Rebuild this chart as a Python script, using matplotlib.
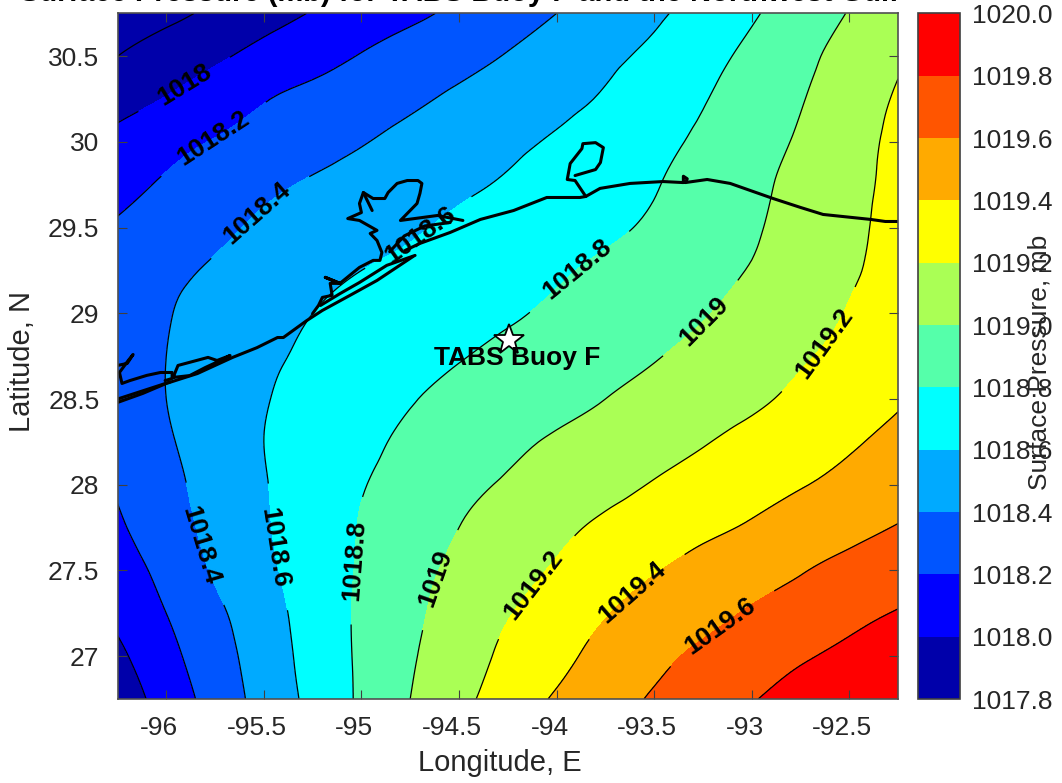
import numpy as np
import matplotlib
matplotlib.use("Agg")
import matplotlib.pyplot as plt
import matplotlib.tri as mtri
from matplotlib.cm import ScalarMappable
from matplotlib.colors import ListedColormap, BoundaryNorm
from matplotlib.transforms import ScaledTranslation

plt.rcParams['font.family'] = ['Liberation Sans', 'DejaVu Sans']
plt.rcParams['axes.unicode_minus'] = False

GRAY = '#262626'

# pressure, one row per latitude (north to south)
lons = [-96.25, -96.0, -95.75, -95.5, -95.25, -95.0, -94.75, -94.5, -94.25,
        -94.0, -93.75, -93.5, -93.25, -93.0, -92.75, -92.5, -92.25]
lats = [30.75, 30.5, 30.25, 30.0, 29.75, 29.5, 29.25, 29.0, 28.75,
        28.5, 28.25, 28.0, 27.75, 27.5, 27.25, 27.0, 26.75]
pressure = [
    [1017.67, 1017.75, 1017.84, 1017.93, 1018.01, 1018.09, 1018.16, 1018.24, 1018.32, 1018.40, 1018.48, 1018.57, 1018.67, 1018.78, 1018.89, 1019.01, 1019.16],
    [1017.80, 1017.89, 1017.97, 1018.06, 1018.13, 1018.21, 1018.28, 1018.34, 1018.41, 1018.48, 1018.56, 1018.64, 1018.74, 1018.84, 1018.95, 1019.07, 1019.18],
    [1017.92, 1018.01, 1018.10, 1018.19, 1018.25, 1018.31, 1018.37, 1018.43, 1018.49, 1018.55, 1018.62, 1018.71, 1018.79, 1018.89, 1018.99, 1019.10, 1019.22],
    [1018.06, 1018.14, 1018.21, 1018.27, 1018.33, 1018.39, 1018.45, 1018.50, 1018.56, 1018.62, 1018.69, 1018.76, 1018.83, 1018.93, 1019.02, 1019.13, 1019.24],
    [1018.15, 1018.22, 1018.29, 1018.36, 1018.42, 1018.47, 1018.52, 1018.57, 1018.62, 1018.68, 1018.73, 1018.79, 1018.87, 1018.96, 1019.05, 1019.15, 1019.24],
    [1018.22, 1018.29, 1018.36, 1018.43, 1018.48, 1018.53, 1018.58, 1018.63, 1018.68, 1018.73, 1018.77, 1018.83, 1018.91, 1018.98, 1019.07, 1019.16, 1019.26],
    [1018.29, 1018.36, 1018.42, 1018.48, 1018.54, 1018.60, 1018.64, 1018.69, 1018.73, 1018.78, 1018.83, 1018.89, 1018.95, 1019.01, 1019.10, 1019.18, 1019.26],
    [1018.31, 1018.39, 1018.46, 1018.53, 1018.60, 1018.65, 1018.69, 1018.74, 1018.78, 1018.83, 1018.88, 1018.94, 1018.99, 1019.06, 1019.13, 1019.21, 1019.28],
    [1018.32, 1018.40, 1018.49, 1018.57, 1018.63, 1018.69, 1018.74, 1018.79, 1018.84, 1018.89, 1018.94, 1018.99, 1019.05, 1019.11, 1019.18, 1019.25, 1019.31],
    [1018.31, 1018.40, 1018.50, 1018.59, 1018.66, 1018.73, 1018.79, 1018.85, 1018.90, 1018.95, 1019.00, 1019.06, 1019.12, 1019.17, 1019.24, 1019.31, 1019.38],
    [1018.27, 1018.38, 1018.49, 1018.60, 1018.68, 1018.76, 1018.83, 1018.89, 1018.96, 1019.02, 1019.07, 1019.13, 1019.19, 1019.25, 1019.31, 1019.38, 1019.44],
    [1018.22, 1018.35, 1018.47, 1018.59, 1018.69, 1018.79, 1018.87, 1018.95, 1019.02, 1019.09, 1019.15, 1019.21, 1019.27, 1019.33, 1019.39, 1019.45, 1019.51],
    [1018.17, 1018.32, 1018.45, 1018.58, 1018.70, 1018.81, 1018.91, 1019.00, 1019.08, 1019.16, 1019.23, 1019.29, 1019.36, 1019.42, 1019.49, 1019.55, 1019.61],
    [1018.10, 1018.26, 1018.42, 1018.56, 1018.69, 1018.82, 1018.94, 1019.04, 1019.13, 1019.22, 1019.31, 1019.39, 1019.46, 1019.52, 1019.59, 1019.65, 1019.71],
    [1018.04, 1018.20, 1018.36, 1018.52, 1018.68, 1018.83, 1018.96, 1019.08, 1019.19, 1019.29, 1019.39, 1019.47, 1019.54, 1019.62, 1019.68, 1019.75, 1019.81],
    [1017.96, 1018.14, 1018.32, 1018.49, 1018.67, 1018.83, 1018.98, 1019.11, 1019.24, 1019.35, 1019.46, 1019.55, 1019.64, 1019.71, 1019.78, 1019.84, 1019.90],
    [1017.89, 1018.08, 1018.28, 1018.47, 1018.65, 1018.83, 1019.00, 1019.15, 1019.29, 1019.42, 1019.52, 1019.62, 1019.71, 1019.79, 1019.86, 1019.92, 1019.99],
]
band_edges = [1017.8, 1018.0, 1018.2, 1018.4, 1018.6, 1018.8, 1019.0, 1019.2, 1019.4, 1019.6, 1019.8, 1020.0]
band_colors = ['#0000AA', '#0000FF', '#0055FF', '#00AAFF', '#00FFFF', '#55FFAA',
               '#AAFF55', '#FFFF00', '#FFAA00', '#FF5500', '#FF0000']

# where the isobar labels sit
label_lon = [-95.904, -95.76, -95.535, -94.71, -93.88, -93.24, -92.62,
             -95.83, -95.45, -95.03, -94.62, -94.13, -93.60, -93.15]
label_lat = [30.328, 30.02, 29.583, 29.472, 29.239, 28.947, 28.819,
             27.646, 27.634, 27.558, 27.453, 27.424, 27.36, 27.16]

buoy_lon = -94.243
buoy_lat = 28.842

# coastline pieces
coast_lon = [-96.25, -96.12, -96.00, -95.84, -95.66, -95.535, -95.43, -95.40, -95.28, -95.20, -95.06, -94.92, -94.735]
coast_lat = [28.48, 28.533, 28.591, 28.649, 28.743, 28.80, 28.859, 28.859, 28.958, 29.017, 29.104, 29.192, 29.332]
coast2_lon = [-94.776, -94.70, -94.545, -94.39, -94.22, -94.05, -93.88, -93.85, -93.777, -93.623, -93.454, -93.35, -93.35, -93.33, -93.34,
              -93.228, -93.11, -92.89, -92.75, -92.634, -92.39, -92.315, -92.25]
coast2_lat = [29.367, 29.408, 29.472, 29.548, 29.60, 29.676, 29.676, 29.682, 29.729, 29.758, 29.769, 29.763, 29.80, 29.785, 29.763,
              29.781, 29.758, 29.67, 29.618, 29.577, 29.548, 29.536, 29.536]
sabine_lon = [-93.85, -93.905, -93.945, -93.93, -93.87, -93.865, -93.80, -93.76, -93.775, -93.80, -93.905]
sabine_lat = [29.682, 29.775, 29.781, 29.874, 29.961, 29.99, 29.996, 29.967, 29.88, 29.839, 29.804]
bay_lon = [-94.48, -94.61, -94.80, -94.715, -94.70, -94.69, -94.71, -94.765, -94.817, -94.863, -94.88, -94.94, -94.99, -95.01, -95.0, -95.07, -95.01,
           -94.92, -94.955, -94.92, -94.895, -94.905, -94.94, -95.01, -95.11, -95.185, -95.11, -95.16, -95.15, -95.20, -95.22, -95.25]
bay_lat = [29.542, 29.571, 29.542, 29.641, 29.70, 29.758, 29.775, 29.775, 29.758, 29.705, 29.67, 29.67, 29.705, 29.641, 29.588, 29.553, 29.542,
           29.484, 29.466, 29.425, 29.355, 29.309, 29.309, 29.268, 29.175, 29.21, 29.175, 29.175, 29.105, 29.093, 29.046, 28.999]
spur_lon = [-94.99, -94.945]
spur_lat = [29.705, 29.60]
island_lon = [-94.725, -94.87, -95.01, -95.11, -95.21]
island_lat = [29.338, 29.28, 29.18, 29.115, 29.046]
bolivar_lon = [-94.855, -94.78, -94.675, -94.545]
bolivar_lat = [29.36, 29.452, 29.51, 29.53]
west_lon = [-96.25, -96.20, -96.17, -96.195, -96.24, -96.227, -96.186, -96.10, -96.03, -95.97, -95.97, -96.006]
west_lat = [28.696, 28.708, 28.76, 28.725, 28.655, 28.591, 28.608, 28.638, 28.655, 28.655, 28.62, 28.608]
west2_lon = [-96.25, -95.98]
west2_lat = [28.50, 28.60]
lagoon_lon = [-95.965, -95.94, -95.786, -95.74, -95.673, -95.70, -95.80, -95.88, -95.965]
lagoon_lat = [28.626, 28.696, 28.743, 28.725, 28.754, 28.737, 28.684, 28.637, 28.626]

coast_parts = [(coast_lon, coast_lat), (coast2_lon, coast2_lat), (sabine_lon, sabine_lat),
               (bay_lon, bay_lat), (spur_lon, spur_lat), (island_lon, island_lat),
               (bolivar_lon, bolivar_lat), (west_lon, west_lat), (west2_lon, west2_lat),
               (lagoon_lon, lagoon_lat)]

W, H = 1062, 783
fig = plt.figure(figsize=(W / 100, H / 100), dpi=100)
ax = fig.add_axes([117.5 / W, 1 - 699 / H, (898 - 117.5) / W, (699 - 13.4) / H])
cax = fig.add_axes([918 / W, 1 - 699 / H, 42 / W, (699 - 13.4) / H])

cmap = ListedColormap(band_colors)
cmap.set_under(band_colors[0])
norm = BoundaryNorm(band_edges, cmap.N)

# matplotlib's own refiner so the isobars come out round instead of angular
lon_grid, lat_grid = np.meshgrid(lons, lats)
tri_grid = mtri.Triangulation(lon_grid.ravel(), lat_grid.ravel())
fine_tri, fine_p = mtri.UniformTriRefiner(tri_grid).refine_field(np.array(pressure).ravel(), subdiv=3)

ax.tricontourf(fine_tri, fine_p, levels=band_edges, cmap=cmap, norm=norm, extend='min')
cs = ax.tricontour(fine_tri, fine_p, levels=band_edges[:-1], colors='k', linewidths=0.9)

labels = ax.clabel(cs, manual=list(zip(label_lon, label_lat)), inline=True, inline_spacing=24,
                   fontsize=19, fmt='%g', colors='k')
for t in labels:
    t.set_fontweight('bold')

for lon_part, lat_part in coast_parts:
    ax.plot(lon_part, lat_part, color='k', lw=2.2, solid_capstyle='round', solid_joinstyle='round')

ax.plot(buoy_lon, buoy_lat, marker='*', ms=23, mfc='w', mec='k', mew=1.3, ls='none')
ax.text(buoy_lon + 0.04, buoy_lat - 0.1, 'TABS Buoy F', fontsize=19, fontweight='bold', color='k',
        ha='center', va='center')

ax.set_xlim(-96.25, -92.25)
ax.set_ylim(26.75, 30.75)
ax.set_xticks([-96, -95.5, -95, -94.5, -94, -93.5, -93, -92.5])
ax.set_yticks([27, 27.5, 28, 28.5, 29, 29.5, 30, 30.5])
ax.set_xticklabels(['-96', '-95.5', '-95', '-94.5', '-94', '-93.5', '-93', '-92.5'])
ax.set_yticklabels(['27', '27.5', '28', '28.5', '29', '29.5', '30', '30.5'])
ax.tick_params(direction='in', top=True, right=True, length=6.5, width=0.8, color='#404040',
               labelsize=19, labelcolor=GRAY)
ax.tick_params(axis='x', pad=12)
ax.tick_params(axis='y', pad=13)
# original tick labels sit a bit left of their ticks
for lab in ax.get_xticklabels():
    lab.set_transform(lab.get_transform() + ScaledTranslation(-7 / 100, 0, fig.dpi_scale_trans))
for s in ax.spines.values():
    s.set_color('#505050')
    s.set_linewidth(1.2)
ax.set_xlabel('Longitude, E', fontsize=21, color=GRAY)
ax.set_ylabel('Latitude, N', fontsize=21, color=GRAY)
ax.xaxis.set_label_coords((500 - 117.5) / 780.5, -50 / 685.6)
ax.yaxis.set_label_coords((36 - 117.5) / 780.5, (699 - 361) / 685.6)

cb = fig.colorbar(ScalarMappable(norm=norm, cmap=cmap), cax=cax, spacing='proportional')
cb.set_ticks(band_edges)
cb.set_ticklabels(['%.1f' % v for v in band_edges])
cax.tick_params(length=0, labelsize=19, labelcolor=GRAY, pad=9)
cb.outline.set_edgecolor('#404040')
cb.outline.set_linewidth(1.2)
fig.text(1040 / W, 1 - 362 / H, 'Surface Pressure, mb', rotation=90, fontsize=19, color=GRAY,
         ha='center', va='center')

# title runs off the top of the figure, same as the original
fig.text(20 / W, 1 - 1.4 / H, 'Surface Pressure (mb) for TABS Buoy F and the Northwest Gulf',
         fontsize=21, fontweight='bold', color='k', ha='left', va='baseline')

fig.savefig('out.png', dpi=100)
